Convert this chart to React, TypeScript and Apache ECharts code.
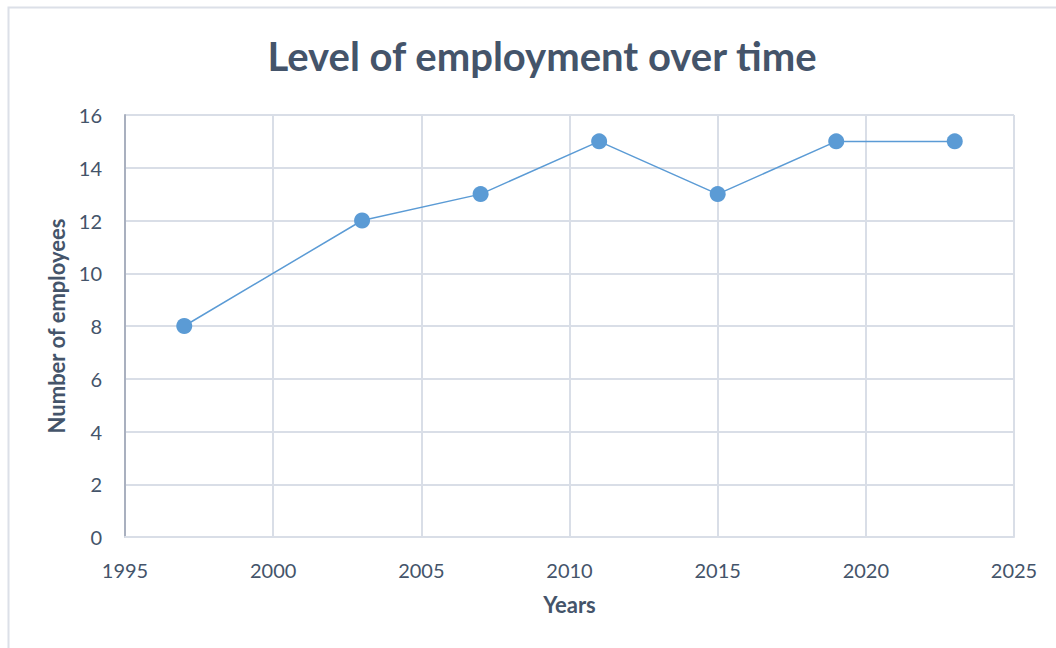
import React, { useEffect, useRef } from "react";
import * as echarts from "echarts";

const titleText = "Level of employment over time";
const xAxisName = "Years";
const yAxisName = "Number of employees";
const years = [1997, 2003, 2007, 2011, 2015, 2019, 2023];
const employees = [8, 12, 13, 15, 13, 15, 15];

const TEXT = "#44546A";
const FONT = "Lato, 'Open Sans', sans-serif";

export default function App() {
  const ref = useRef<HTMLDivElement>(null);
  useEffect(() => {
    if (!ref.current) return;
    const chart = echarts.init(ref.current, null, { renderer: "svg" });
    chart.setOption({
      animation: false,
      backgroundColor: "#ffffff",
      textStyle: { fontFamily: FONT },
      title: {
        text: titleText,
        left: 537,
        top: 31,
        textAlign: "center",
        textStyle: { color: TEXT, fontSize: 40, fontWeight: "bold", fontFamily: FONT },
      },
      graphic: [
        {
          type: "rect",
          shape: { x: 8.5, y: 7.5, width: 1100, height: 700 },
          style: { fill: "none", stroke: "#DCE0E8", lineWidth: 2 },
          silent: true,
        },
      ],
      grid: { left: 125, right: 42, top: 115, bottom: 111, containLabel: false },
      xAxis: {
        type: "value",
        min: 1995,
        max: 2025,
        interval: 5,
        name: xAxisName,
        nameLocation: "middle",
        nameGap: 56,
        nameTextStyle: { color: TEXT, fontSize: 22, fontWeight: "bold", fontFamily: FONT },
        axisLine: { show: true, lineStyle: { color: "#D9DEE7", width: 2 } },
        axisTick: { show: false },
        axisLabel: { color: TEXT, fontSize: 20, margin: 23, fontFamily: FONT, formatter: (v: number) => String(v) },
        splitLine: { show: true, lineStyle: { color: "#D9DEE7", width: 2 } },
      },
      yAxis: {
        type: "value",
        min: 0,
        max: 16,
        interval: 2,
        name: yAxisName,
        nameLocation: "middle",
        nameGap: 54,
        nameRotate: 90,
        nameTextStyle: { color: TEXT, fontSize: 22, fontWeight: "bold", fontFamily: FONT },
        axisLine: { show: true, lineStyle: { color: "#A9B0BF", width: 2 } },
        axisTick: { show: false },
        axisLabel: { color: TEXT, fontSize: 20, margin: 23, fontFamily: FONT },
        splitLine: { show: true, lineStyle: { color: "#D9DEE7", width: 2 } },
      },
      series: [
        {
          type: "line",
          data: years.map((y, i) => [y, employees[i]]),
          symbol: "circle",
          symbolSize: 16,
          itemStyle: { color: "#5B9BD5" },
          lineStyle: { color: "#5B9BD5", width: 1.5 },
        },
      ],
    });
    return () => chart.dispose();
  }, []);
  return (
    <div style={{ position: "absolute", left: 0, top: 0, width: 1056, height: 648 }}>
      <div ref={ref} style={{ width: 1056, height: 648 }} />
    </div>
  );
}
